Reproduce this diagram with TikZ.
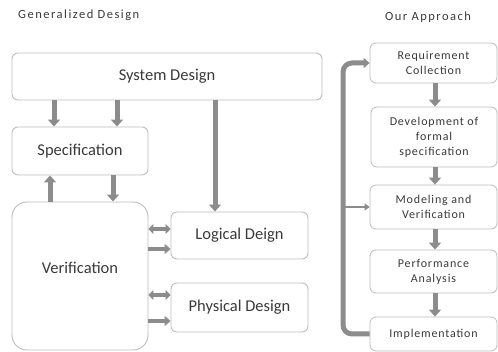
\documentclass[tikz,border=0pt]{standalone}
\usepackage{fontspec}
\setmainfont{Carlito}
\newfontfamily\widefont[LetterSpace=12]{Carlito}
\newfontfamily\midfont[LetterSpace=7]{Carlito}
\usetikzlibrary{arrows.meta}
\definecolor{boxline}{HTML}{BDBDBD}
\definecolor{arrgray}{HTML}{8C8C8C}
\definecolor{txt}{HTML}{3A3A3A}
\tikzset{
  bigbox/.style={draw=boxline, line width=0.9pt, rounded corners=6pt, fill=white, inner sep=0pt,
    font=\fontsize{16.5}{18}\selectfont, text=txt},
  smallbox/.style={draw=boxline, line width=0.8pt, rounded corners=6pt, fill=white, inner sep=0pt,
    align=center, font=\midfont\fontsize{12}{15}\selectfont, text=txt},
  titletext/.style={font=\widefont\fontsize{12.5}{14}\selectfont, text=txt, inner sep=0pt},
  garrow/.style={draw=arrgray, line width=5pt, -{Triangle[width=12pt,length=7pt]}},
  darrow/.style={draw=arrgray, line width=4pt, {Triangle[width=10pt,length=5pt]}-{Triangle[width=10pt,length=5pt]}},
  sarrow/.style={draw=arrgray, line width=4pt, -{Triangle[width=10pt,length=6pt]}},
  looparrow/.style={draw=arrgray, line width=5pt, rounded corners=9pt, -{Triangle[width=10pt,length=6pt]}},
  thinarrow/.style={draw=arrgray, line width=2.5pt, -{Triangle[width=7pt,length=5pt]}},
}
\begin{document}
\begin{tikzpicture}[x=1pt, y=-1pt]
\useasboundingbox (0,0) rectangle (498,352);
% titles
\node[titletext, anchor=west] (t1) at (18,15) {Generalized Design};
\node[titletext] (t2) at (428,17) {Our Approach};
% left boxes
\node[bigbox, minimum width=310pt, minimum height=47pt] (sys) at (167,76.5) {System Design};
\node[bigbox, minimum width=136pt, minimum height=48pt] (spec) at (80,151) {Specification};
\node[bigbox, rounded corners=15pt, minimum width=136pt, minimum height=148pt] (ver) at (80,276) {};
\node[font=\fontsize{16.5}{18}\selectfont, text=txt, inner sep=0pt] (vertext) at (80,268) {Verification};
\node[bigbox, minimum width=137pt, minimum height=47pt] (log) at (239.5,235.5) {Logical Deign};
\node[bigbox, minimum width=137pt, minimum height=49pt] (phy) at (239.5,307.5) {Physical Design};
% right boxes
\node[smallbox, minimum width=127pt, minimum height=40pt] (req) at (433.5,63) {Requirement\\Collection};
\node[smallbox, minimum width=126pt, minimum height=60pt] (dev) at (434,137) {Development of\\formal\\specification};
\node[smallbox, minimum width=127pt, minimum height=44pt] (mod) at (433.5,207) {Modeling and\\Verification};
\node[smallbox, minimum width=127pt, minimum height=43pt] (perf) at (433.5,271.5) {Performance\\Analysis};
\node[smallbox, minimum width=127pt, minimum height=34pt] (impl) at (433.5,334) {Implementation};
% left arrows
\draw[garrow] (sys.south -| 54,0) -- (spec.north -| 54,0);
\draw[garrow] (sys.south -| 117,0) -- (spec.north -| 117,0);
\draw[garrow] (ver.north -| 50,0) -- (spec.south -| 50,0);
\draw[garrow] (spec.south -| 113,0) -- (ver.north -| 113,0);
\draw[garrow] (sys.south -| 215,0) -- (log.north -| 215,0);
\draw[darrow] (ver.east |- 0,229) -- (log.west |- 0,229);
\draw[sarrow] (ver.east |- 0,249) -- (log.west |- 0,249);
\draw[darrow] (ver.east |- 0,295) -- (phy.west |- 0,295);
\draw[sarrow] (ver.east |- 0,321) -- (phy.west |- 0,321);
% right arrows
\draw[garrow] (req.south -| 435,0) -- (dev.north -| 435,0);
\draw[garrow] (dev.south -| 435,0) -- (mod.north -| 435,0);
\draw[garrow] (mod.south -| 435,0) -- (perf.north -| 435,0);
\draw[garrow] (perf.south -| 435,0) -- (impl.north -| 435,0);
% feedback loop
\coordinate (lx) at (343,0);
\draw[looparrow] (impl.west) -- (impl.west -| lx) -- (req.west -| lx) -- (req.west);
\draw[thinarrow] (mod.west -| lx) -- (mod.west);
\end{tikzpicture}
\end{document}
